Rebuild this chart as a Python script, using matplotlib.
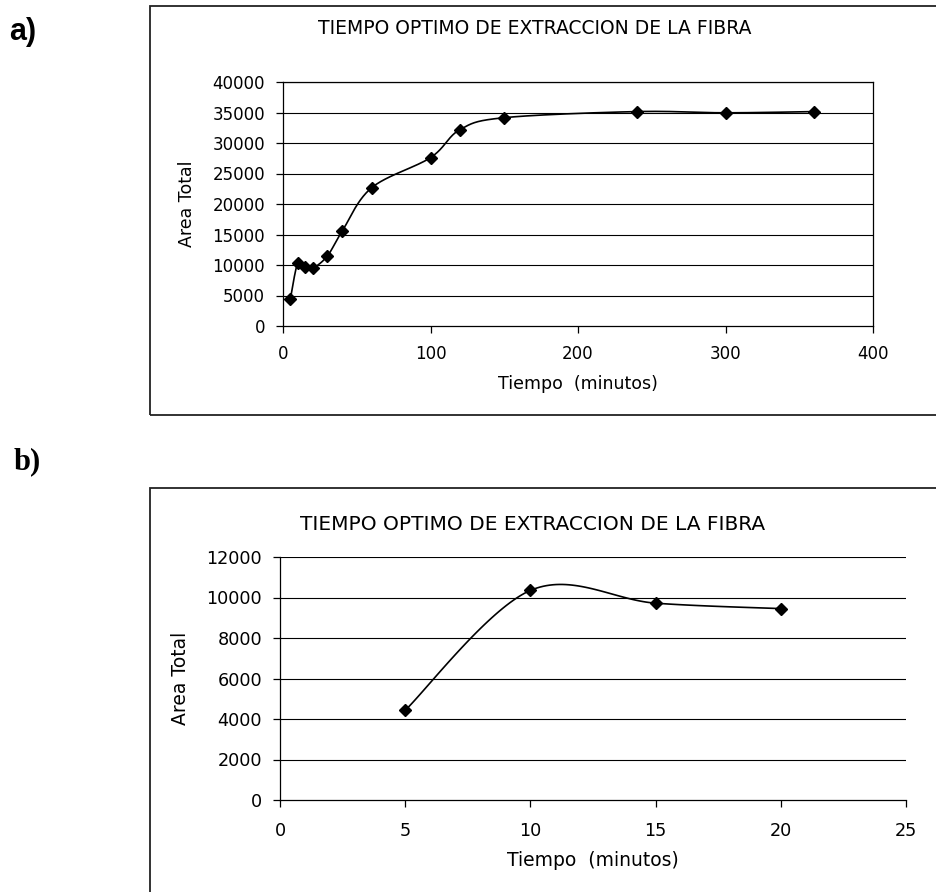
import numpy as np
import matplotlib.pyplot as plt
from matplotlib.patches import Rectangle

# datos
tiempo_a = [5, 10, 15, 20, 30, 40, 60, 100, 120, 150, 240, 300, 360]
area_a = [4430, 10350, 9720, 9450, 11450, 15500, 22650, 27600, 32200, 34150, 35150, 34950, 35150]
tiempo_b = [5, 10, 15, 20]
area_b = [4430, 10350, 9720, 9450]

titulo = "TIEMPO OPTIMO DE EXTRACCION DE LA FIBRA"
xlab = "Tiempo  (minutos)"
ylab = "Area Total"
fuente = "DejaVu Sans"


def suavizar(x, y, n=40):
    # curva suavizada tipo excel (bezier con puntos de control catmull-rom)
    p = np.column_stack([x, y]).astype(float)
    q = np.vstack([p[0], p, p[-1]])
    out = []
    for i in range(1, len(q) - 2):
        p0, p1, p2, p3 = q[i - 1], q[i], q[i + 1], q[i + 2]
        c1 = p1 + (p2 - p0) / 6
        c2 = p2 - (p3 - p1) / 6
        t = np.linspace(0, 1, n)[:, None]
        seg = (1 - t) ** 3 * p1 + 3 * (1 - t) ** 2 * t * c1 + 3 * (1 - t) * t ** 2 * c2 + t ** 3 * p2
        out.append(seg)
    c = np.vstack(out)
    return c[:, 0], c[:, 1]


W, H = 936, 892
fig = plt.figure(figsize=(W / 100, H / 100), dpi=100)


def fx(px):
    return px / W


def fy(py):
    return 1 - py / H


def panel(ax, x, y, xmax, xstep, ymax, ystep, fs, fsl, top_box, xpad, ypad):
    sx, sy = suavizar(x, y)
    ax.plot(sx, sy, color="black", lw=1.2, zorder=3)
    ax.plot(x, y, ls="none", marker="D", ms=6.5, color="black", zorder=4)
    ax.set_xlim(0, xmax)
    ax.set_ylim(0, ymax)
    ax.set_xticks(np.arange(0, xmax + 1, xstep))
    ax.set_yticks(np.arange(0, ymax + 1, ystep))
    for v in np.arange(ystep, ymax + 1, ystep):
        ax.axhline(v, color="black", lw=0.8, zorder=1)
    for s in ["top", "right"]:
        ax.spines[s].set_visible(top_box)
    for s in ax.spines.values():
        s.set_linewidth(0.9)
    ax.tick_params(direction="out", length=5, width=0.9, labelsize=fs)
    ax.tick_params(axis="x", pad=xpad)
    ax.tick_params(axis="y", pad=ypad)
    for lab in ax.get_xticklabels() + ax.get_yticklabels():
        lab.set_fontfamily(fuente)
    ax.set_xlabel(xlab, fontsize=fsl, fontfamily=fuente, labelpad=8)
    ax.set_ylabel(ylab, fontsize=fsl, fontfamily=fuente, labelpad=12)


# grafico a)
fig.add_artist(Rectangle((fx(150), fy(415)), 1, (415 - 6) / H, transform=fig.transFigure,
                         fill=False, lw=1.3, ec="#222222"))
ax1 = fig.add_axes([fx(283), fy(326), (873 - 283) / W, (326 - 82) / H])
panel(ax1, tiempo_a, area_a, 400, 100, 40000, 5000, 12, 12.5, True, 9, 8)
fig.text(fx(535), fy(29), titulo, ha="center", va="center", fontsize=13.5, fontfamily=fuente)
fig.text(fx(9), fy(32), "a)", ha="left", va="center", fontsize=22, fontweight="bold",
         fontfamily="Liberation Sans")

# grafico b)
fig.add_artist(Rectangle((fx(150), fy(900)), 1, (900 - 488) / H, transform=fig.transFigure,
                         fill=False, lw=1.3, ec="#222222"))
ax2 = fig.add_axes([fx(280), fy(800), (906 - 280) / W, (800 - 557) / H])
panel(ax2, tiempo_b, area_b, 25, 5, 12000, 2000, 12.7, 13.5, False, 11, 8)
fig.text(fx(533), fy(525), titulo, ha="center", va="center", fontsize=14.5, fontfamily=fuente)
fig.text(fx(14), fy(462), "b)", ha="left", va="center", fontsize=22, fontweight="bold",
         fontfamily="Liberation Serif")

fig.savefig("out.png", dpi=100)
